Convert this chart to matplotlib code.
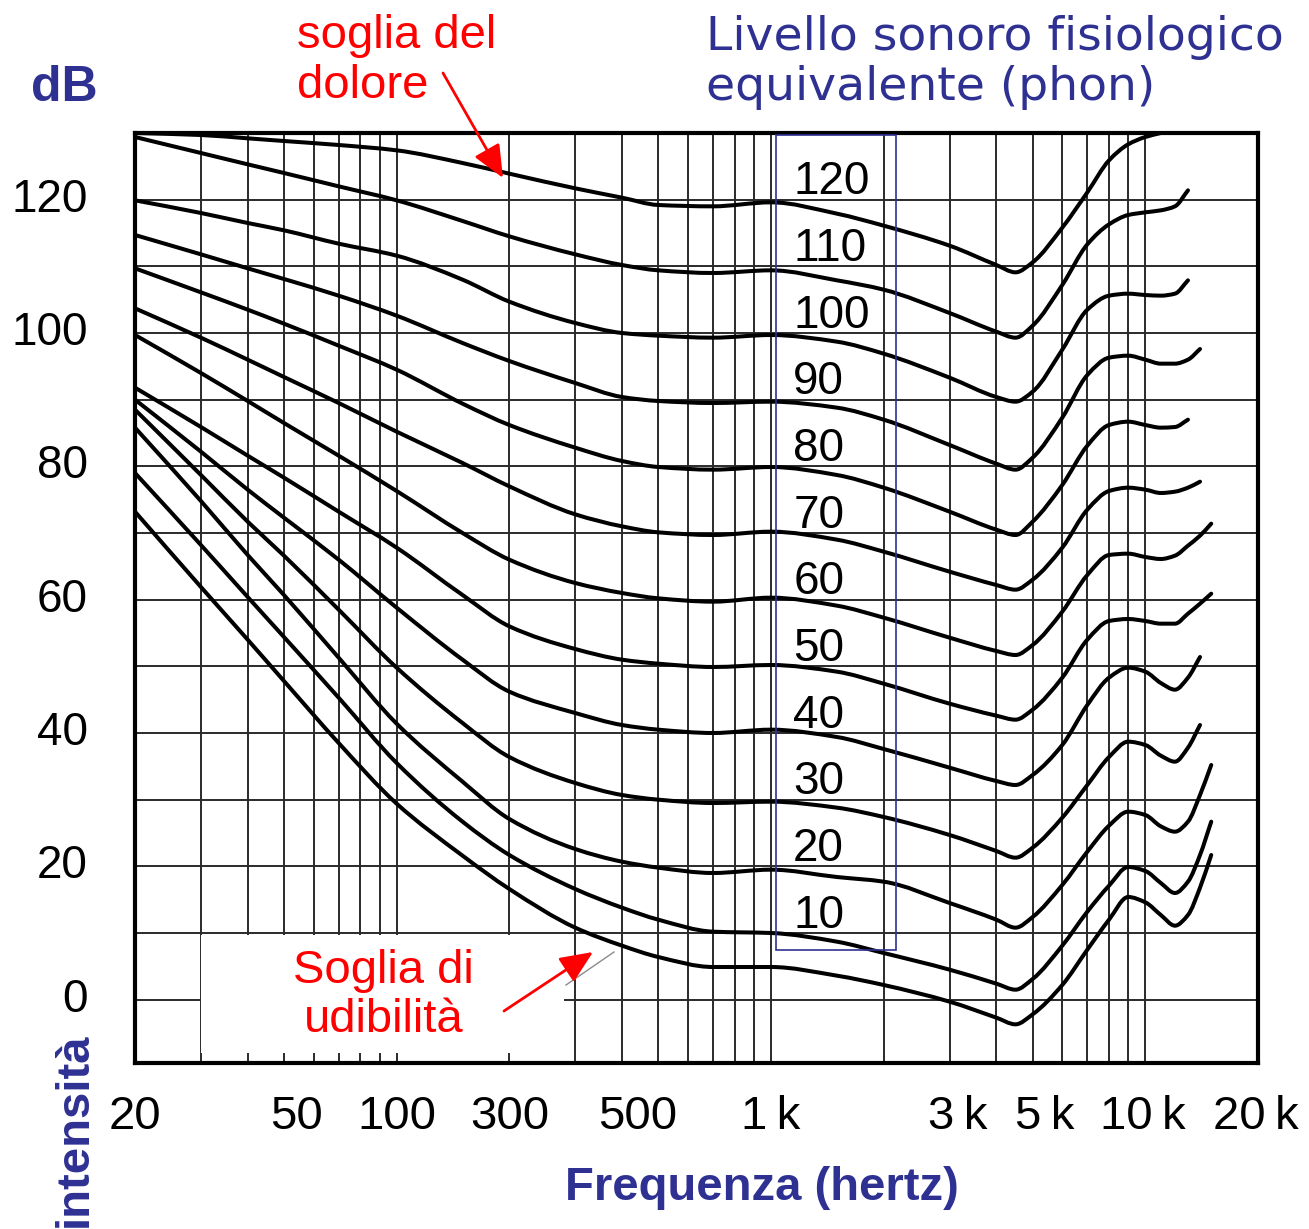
import numpy as np
import matplotlib
matplotlib.use("Agg")
import matplotlib.pyplot as plt
import matplotlib.transforms as mtransforms
from matplotlib.patches import Rectangle, PathPatch
from matplotlib.path import Path
from matplotlib.lines import Line2D
from matplotlib.ticker import NullLocator

plt.rcParams['font.family'] = ['Liberation Sans', 'DejaVu Sans']

# frequency grid (Hz) shared by all the curves
freq = [20, 30, 40, 50, 70, 100, 150, 200, 300, 400, 500, 700, 1000, 1500, 2000,
        3000, 4000, 4500, 5000, 6000, 7000, 8000, 9000, 10000, 11000, 12000,
        13000, 14000, 15000]

# sound level (dB) of each equal loudness curve
# the curves stop at different frequencies so some lists are shorter
phon_0 = [73.2, 61.9, 54.0, 47.8, 38.5, 29.4, 21.6, 16.6, 10.8, 8.1, 6.4, 4.9, 4.9, 3.6, 2.2,
          -0.3, -2.7, -3.7, -2.2, 2.2, 7.5, 12.0, 15.4, 14.6, 12.7, 11.1, 12.7, 16.8, 21.7]
phon_10 = [79.0, 68.2, 60.4, 54.4, 45.3, 35.5, 26.7, 21.7, 16.6, 13.8, 12.0, 10.2, 10.0, 8.7, 7.0,
           4.5, 2.4, 1.5, 3.1, 8.1, 13.2, 17.1, 19.9, 19.3, 17.5, 16.0, 17.7, 21.7, 26.7]
phon_20 = [85.8, 74.8, 66.7, 60.7, 51.3, 41.4, 32.7, 27.1, 22.6, 20.7, 19.8, 19.0, 19.5, 18.4, 17.7,
           14.5, 12.0, 10.8, 12.4, 17.2, 22.2, 26.1, 28.2, 27.7, 26.0, 25.2, 26.7, 30.7, 35.2]
phon_30 = [88.5, 78.7, 71.7, 66.6, 58.5, 49.8, 41.5, 36.4, 32.5, 30.7, 30.0, 29.5, 29.7, 28.8, 27.4,
           24.7, 22.3, 21.3, 22.8, 27.3, 32.2, 36.4, 38.7, 38.2, 36.6, 35.7, 37.8, 41.2]
phon_40 = [90.0, 82.2, 76.5, 72.3, 66.0, 58.8, 51.0, 46.2, 43.0, 41.2, 40.5, 40.0, 40.5, 39.4, 37.6,
           34.8, 32.8, 32.2, 33.7, 38.2, 44.2, 48.3, 49.8, 49.2, 47.5, 46.5, 48.3, 51.4]
phon_50 = [91.8, 85.9, 81.6, 78.3, 73.2, 67.8, 60.7, 56.0, 52.6, 51.0, 50.4, 49.9, 50.2, 49.2, 47.4,
           44.4, 42.6, 42.0, 43.5, 48.3, 54.0, 56.8, 57.1, 56.8, 56.4, 56.4, 57.9, 59.4, 60.9]
phon_60 = [99.7, 94.0, 89.8, 86.5, 81.6, 76.3, 70.0, 66.0, 62.5, 61.0, 60.2, 59.7, 60.3, 59.1, 57.3,
           54.3, 52.3, 51.7, 53.2, 58.2, 63.7, 66.7, 66.9, 66.4, 66.1, 66.6, 68.1, 69.6, 71.4]
phon_70 = [103.7, 99.3, 96.0, 93.4, 89.5, 85.2, 80.5, 77.0, 72.8, 71.0, 70.1, 69.7, 70.2, 69.0, 67.2,
           64.2, 62.2, 61.5, 63.0, 67.8, 73.5, 76.3, 76.8, 76.5, 76.0, 76.2, 76.8, 77.7]
phon_80 = [109.7, 106.1, 103.5, 101.4, 98.1, 94.5, 89.4, 86.2, 82.8, 80.8, 79.9, 79.5, 79.9, 78.7, 76.8,
           73.2, 70.5, 69.7, 71.7, 77.2, 83.1, 86.2, 86.7, 86.2, 85.8, 85.9, 87.0]
phon_90 = [114.7, 111.8, 109.7, 108.1, 105.6, 102.6, 98.5, 95.8, 92.5, 90.4, 89.8, 89.5, 89.7, 88.8, 87.0,
           83.2, 80.4, 79.5, 81.3, 87.3, 93.7, 96.3, 96.6, 96.0, 95.4, 95.4, 96.0, 97.6]
phon_100 = [119.9, 118.0, 116.5, 115.4, 113.4, 111.6, 108.0, 104.7, 101.5, 100.0, 99.6, 99.3, 99.7, 98.7, 96.9,
            93.3, 90.4, 89.7, 91.2, 97.5, 103.5, 105.6, 105.9, 105.7, 105.6, 105.9, 107.9]
phon_110 = [129.4, 127.0, 125.3, 124.0, 122.0, 119.9, 116.8, 114.5, 111.8, 110.2, 109.4, 109.0, 109.4, 107.9, 106.5,
            103.0, 100.2, 99.3, 101.1, 107.2, 113.3, 116.3, 117.7, 118.1, 118.4, 119.0, 121.4]
phon_120 = [130.0, 129.7, 129.2, 128.8, 128.2, 127.4, 125.5, 123.9, 121.7, 120.3, 119.2, 119.0, 119.6, 117.9, 116.1,
            113.1, 110.2, 109.1, 110.6, 115.8, 121.1, 125.9, 128.3, 129.4, 130.0]

curves = [phon_0, phon_10, phon_20, phon_30, phon_40, phon_50, phon_60,
          phon_70, phon_80, phon_90, phon_100, phon_110, phon_120]

# labels written in the blue box
box_phon = [10, 20, 30, 40, 50, 60, 70, 80, 90, 100, 110, 120]

# tick labels (the originals sit where they sit, not on their own frequency)
xtick_freq = [20, 54, 100, 200, 440, 1000, 3160, 5400, 9860, 19700]
xtick_text = ["20", "50", "100", "300", "500", "1\u2009k", "3\u2009k", "5\u2009k", "10\u2009k", "20\u2009k"]
ytick_vals = [0, 20, 40, 60, 80, 100, 120]

grid_freq = [30, 40, 50, 60, 70, 80, 90, 100, 200, 300, 400, 500, 600, 700, 800, 900,
             1000, 2000, 3000, 4000, 5000, 6000, 7000, 8000, 9000, 10000]
grid_db = [0, 10, 20, 30, 40, 50, 60, 70, 80, 90, 100, 110, 120]

W, H = 1309, 1229
BLUE = '#2E3192'


def smooth_path(f, y):
    # monotone cubic (pchip style) bezier through the read points, in log-f space
    u = np.log10(np.asarray(f, dtype=float))
    y = np.asarray(y, dtype=float)
    h = np.diff(u)
    d = np.diff(y) / h
    m = np.zeros_like(y)
    m[0], m[-1] = d[0], d[-1]
    for k in range(1, len(y) - 1):
        if d[k - 1] * d[k] > 0:
            w1 = 2 * h[k] + h[k - 1]
            w2 = h[k] + 2 * h[k - 1]
            m[k] = (w1 + w2) / (w1 / d[k - 1] + w2 / d[k])
    verts = [(u[0], y[0])]
    codes = [Path.MOVETO]
    for k in range(len(y) - 1):
        verts += [(u[k] + h[k] / 3, y[k] + m[k] * h[k] / 3),
                  (u[k + 1] - h[k] / 3, y[k + 1] - m[k + 1] * h[k] / 3),
                  (u[k + 1], y[k + 1])]
        codes += [Path.CURVE4] * 3
    verts = np.array(verts)
    verts[:, 0] = 10 ** verts[:, 0]
    return Path(verts, codes)


fig = plt.figure(figsize=(W / 100, H / 100), dpi=100)
ax = fig.add_axes([135 / W, 1 - 1063 / H, (1258 - 135) / W, (1063 - 133) / H])
ax.set_xscale('log')
ax.set_xlim(20, 20000)
ax.set_ylim(-9.5, 130)

for f in grid_freq:
    ax.axvline(f, color='#2a2a2a', lw=1.4, zorder=1)
for d in grid_db:
    ax.axhline(d, color='#2a2a2a', lw=1.4, zorder=1)

for lv in curves:
    ax.add_patch(PathPatch(smooth_path(freq[:len(lv)], lv), fill=False, edgecolor='black',
                           lw=2.9, joinstyle='round', capstyle='round', zorder=3))

for p in box_phon:
    ax.text(1146, p + 2.6, str(p), fontsize=33, ha='left', va='center', zorder=4)

for s in ax.spines.values():
    s.set_linewidth(3)
    s.set_zorder(5)

ax.xaxis.set_minor_locator(NullLocator())
ax.set_xticks(xtick_freq)
ax.set_xticklabels(xtick_text, fontsize=34)
ax.set_yticks(ytick_vals)
ax.set_yticklabels([str(v) for v in ytick_vals], fontsize=33)
ax.tick_params(axis='x', length=0, pad=23)
ax.tick_params(axis='y', length=0, pad=34)
offset = mtransforms.ScaledTranslation(0, 5 / 100, fig.dpi_scale_trans)
for lab in ax.get_yticklabels():
    lab.set_transform(lab.get_transform() + offset)

# white patch behind "Soglia di udibilita" and the blue box round the phon labels
ax.add_patch(Rectangle((201 / W, 1 - 1053 / H), 363 / W, 118 / H, transform=fig.transFigure,
                       facecolor='white', edgecolor='none', zorder=2.5, clip_on=False))
ax.add_patch(Rectangle((776 / W, 1 - 950 / H), 120 / W, 815 / H, transform=fig.transFigure,
                       fill=False, edgecolor=BLUE, lw=1.2, zorder=6, clip_on=False))
ax.add_line(Line2D([566 / W, 614 / W], [1 - 985 / H, 1 - 952 / H], transform=fig.transFigure,
                   color='#8a8a8a', lw=1, zorder=4, clip_on=False))

ax.text(383 / W, 1 - 983 / H, "Soglia di", transform=fig.transFigure, color='red',
        fontsize=34, ha='center', va='baseline', zorder=6)
ax.text(384 / W, 1 - 1032 / H, "udibilità", transform=fig.transFigure, color='red',
        fontsize=34, ha='center', va='baseline', zorder=6)
ax.annotate("", xy=(593, H - 952), xytext=(504, H - 1011), xycoords='figure pixels',
            arrowprops=dict(arrowstyle='-|>,head_length=0.8,head_width=0.35', color='red',
                            lw=2, mutation_scale=25, shrinkA=0, shrinkB=0),
            annotation_clip=False, zorder=7)

fig.text(297 / W, 1 - 48 / H, "soglia del", color='red', fontsize=34, ha='left', va='baseline')
fig.text(297 / W, 1 - 98 / H, "dolore", color='red', fontsize=34, ha='left', va='baseline')
ax.annotate("", xy=(503, H - 178), xytext=(443, H - 73), xycoords='figure pixels',
            arrowprops=dict(arrowstyle='-|>,head_length=0.8,head_width=0.35', color='red',
                            lw=2, mutation_scale=25, shrinkA=0, shrinkB=0),
            annotation_clip=False, zorder=7)

fig.text(706 / W, 1 - 50 / H, "Livello sonoro fisiologico", color=BLUE, fontsize=34,
         family='DejaVu Sans', ha='left', va='baseline')
fig.text(706 / W, 1 - 100 / H, "equivalente (phon)", color=BLUE, fontsize=34,
         family='DejaVu Sans', ha='left', va='baseline')

fig.text(64 / W, 1 - 88 / H, "dB", color=BLUE, fontsize=36, fontweight='bold',
         ha='center', va='center')
fig.text(762 / W, 1 - 1188 / H, "Frequenza (hertz)", color=BLUE, fontsize=34,
         fontweight='bold', ha='center', va='center')
fig.text(75 / W, 1 - 1032 / H, "intensità", color=BLUE, fontsize=34, fontweight='bold',
         rotation=90, ha='center', va='top')

fig.savefig("out.png", dpi=100, facecolor='white')
